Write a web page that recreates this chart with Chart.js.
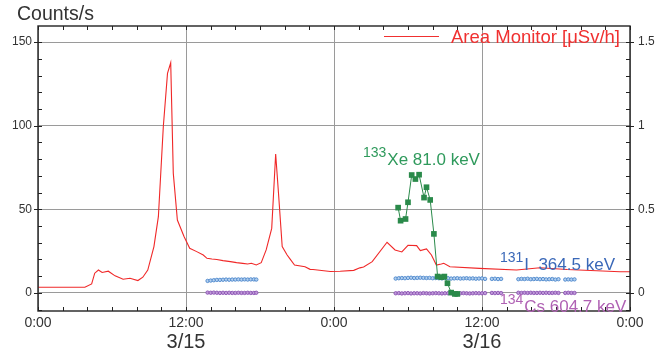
<!DOCTYPE html>
<html>
<head>
<meta charset="utf-8">
<title>Area Monitor y Xe-133</title>
<script src="https://cdn.jsdelivr.net/npm/chart.js@4.4.0/dist/chart.umd.min.js"></script>
<style>
  body { margin: 0; background: #fff; }
  canvas { display: block; }
</style>
</head>
<body>
<canvas id="grafico" width="665" height="350"></canvas>
<script>
// horas desde 3/15 0:00
var xTicks = [0, 12, 24, 36, 48];
var xTickLabels = ['0:00', '12:00', '0:00', '12:00', '0:00'];
var dayTicks = [12, 36];
var dayLabels = ['3/15', '3/16'];
var yTicks = [0, 50, 100, 150];
var y2Ticks = [0, 0.5, 1, 1.5];
var y2TickLabels = ['0', '0.5', '1', '1.5'];

// Area Monitor [uSv/h], eje derecho
var monitorHours = [0, 3.8, 4.35, 4.6, 4.9, 5.2, 5.7, 6.25, 6.9, 7.46, 8.1, 8.5, 8.9, 9.4, 9.76,
  10.16, 10.5, 10.76, 10.97, 11.3, 11.84, 12.3, 12.87, 13.4, 13.7, 14.1, 14.5, 15.0, 15.6, 16.1,
  16.6, 17.0, 17.3, 17.7, 18.1, 18.5, 18.95, 19.27, 19.5, 19.8, 20.2, 20.4, 20.8, 21.65, 22.06,
  22.3, 23.7, 24.5, 25.6, 26.1, 26.4, 27.1, 28.3, 28.95, 29.5, 30.0, 30.7, 31.0, 31.5, 31.9,
  32.3, 32.7, 32.9, 33.4, 35.8, 38.8, 40.7, 42.9, 47.2, 48];
var monitorDose = [0.034, 0.034, 0.054, 0.118, 0.137, 0.122, 0.130, 0.102, 0.082, 0.088, 0.074, 0.094, 0.137, 0.277, 0.456,
  0.994, 1.313, 1.376, 0.715, 0.436, 0.337, 0.267, 0.247, 0.227, 0.207, 0.203, 0.200, 0.193, 0.187, 0.181,
  0.177, 0.173, 0.177, 0.167, 0.181, 0.257, 0.386, 0.831, 0.596, 0.277, 0.227, 0.207, 0.167, 0.157, 0.141,
  0.140, 0.128, 0.130, 0.135, 0.150, 0.155, 0.187, 0.303, 0.257, 0.245, 0.285, 0.283, 0.253, 0.263, 0.227,
  0.167, 0.173, 0.177, 0.157, 0.147, 0.137, 0.151, 0.140, 0.127, 0.127];

// 133Xe 81.0 keV [counts/s]
var xeHours = [29.2, 29.4, 29.8, 30.0, 30.3, 30.6, 30.9, 31.3, 31.5, 31.8, 32.1, 32.4, 32.7, 32.95, 33.2, 33.5, 33.8, 34.0];
var xeCounts = [51, 43.2, 44.2, 54.2, 70.5, 68.1, 70.7, 57, 63.2, 55.6, 35.3, 9.8, 9.4, 9.8, 5.8, 0.2, -0.6, -0.6];

// 131I y 134Cs [counts/s]
var nuclideHours = [13.75, 14.0, 14.25, 14.5, 14.75, 15.0, 15.25, 15.5, 15.75, 16.0, 16.25, 16.5, 16.75, 17.0, 17.25, 17.5, 17.7,
  29.0, 29.25, 29.5, 29.75, 30.0, 30.25, 30.5, 30.75, 31.0, 31.25, 31.5, 31.75, 32.0, 32.25, 32.5,
  32.75, 33.0, 33.25, 33.5, 33.75, 34.0, 34.25, 34.5, 34.75, 35.0, 35.25, 35.5, 35.75, 36.0, 36.25,
  36.8, 37.05, 37.3, 37.55,
  38.95, 39.2, 39.45, 39.7, 39.95, 40.2, 40.45, 40.7, 40.95, 41.2, 41.45, 41.7, 41.95, 42.2,
  42.75, 43.0, 43.25, 43.5];
var iodineCounts = [7.2, 7.4, 7.6, 7.8, 7.8, 7.9, 8.0, 7.9, 8.0, 8.0, 8.1, 8.0, 8.1, 8.0, 8.1, 8.1, 8.0,
  8.6, 8.8, 8.9, 8.8, 9.0, 9.1, 8.9, 9.0, 9.1, 9.0, 8.9, 9.0, 8.8, 8.9, 8.8,
  8.7, 8.9, 8.8, 8.6, 8.7, 8.8, 8.6, 8.7, 8.8, 8.6, 8.7, 8.5, 8.6, 8.7, 8.4,
  8.4, 8.5, 8.3, 8.4,
  8.2, 8.4, 8.3, 8.5, 8.2, 8.3, 8.4, 8.2, 8.3, 8.1, 8.2, 8.3, 8.0, 8.2,
  8.0, 8.1, 8.0, 8.1];
var cesiumCounts = [0.2, 0.1, 0.2, 0.1, 0.0, 0.1, 0.0, 0.1, 0.0, 0.0, 0.1, 0.0, 0.0, 0.1, 0.0, 0.0, 0.1,
  -0.2, -0.1, -0.3, -0.2, -0.1, -0.3, -0.2, -0.2, -0.3, -0.1, -0.2, -0.3, -0.2, -0.1, -0.2,
  -0.3, -0.2, -0.2, -0.1, -0.3, -0.2, -0.2, -0.1, -0.2, -0.3, -0.2, -0.1, -0.2, -0.2, -0.1,
  0.0, -0.1, 0.0, -0.1,
  0.1, 0.0, 0.1, 0.0, 0.1, 0.0, 0.0, 0.1, 0.0, 0.1, 0.0, 0.0, 0.1, 0.0,
  0.0, 0.1, 0.0, 0.0];

var FUENTE = '"Liberation Sans", Arial, sans-serif';

function puntos(xs, ys) {
  return xs.map(function(x, i) { return { x: x, y: ys[i] }; });
}

// marco, ticks hacia adentro, fechas, leyenda y etiquetas de picos
var extrasPlugin = {
  id: 'extras',
  afterDraw: function(chart) {
    var ctx = chart.ctx;
    var a = chart.chartArea;
    var sx = chart.scales.x;
    var sy = chart.scales.y;
    ctx.save();

    ctx.strokeStyle = '#222';
    ctx.lineWidth = 1;
    ctx.beginPath();
    for (var h = 0; h <= 48; h += 2) {
      var px = Math.round(sx.getPixelForValue(h)) + 0.5;
      ctx.moveTo(px, a.bottom); ctx.lineTo(px, a.bottom - 4);
      ctx.moveTo(px, a.top); ctx.lineTo(px, a.top + 4);
    }
    for (var v = -10; v <= 150; v += 10) {
      var py = Math.round(sy.getPixelForValue(v)) + 0.5;
      ctx.moveTo(a.left, py); ctx.lineTo(a.left + 4, py);
      ctx.moveTo(a.right, py); ctx.lineTo(a.right - 4, py);
    }
    yTicks.forEach(function(t) {
      var py = Math.round(sy.getPixelForValue(t)) + 0.5;
      ctx.moveTo(a.left - 4, py); ctx.lineTo(a.left, py);
      ctx.moveTo(a.right, py); ctx.lineTo(a.right + 4, py);
    });
    ctx.stroke();

    ctx.lineWidth = 1.4;
    ctx.strokeRect(a.left, a.top, a.right - a.left, a.bottom - a.top);

    // titulo del eje
    ctx.fillStyle = '#333';
    ctx.font = '19.5px ' + FUENTE;
    ctx.textAlign = 'left';
    ctx.textBaseline = 'alphabetic';
    ctx.fillText('Counts/s', 17, 20);

    // fechas
    ctx.font = '20px ' + FUENTE;
    ctx.textAlign = 'center';
    dayTicks.forEach(function(d, i) {
      ctx.fillText(dayLabels[i], sx.getPixelForValue(d), 348);
    });

    // leyenda
    ctx.font = '18.5px ' + FUENTE;
    ctx.textAlign = 'left';
    var leyenda = 'Area Monitor [\u03bcSv/h]';
    var w = ctx.measureText(leyenda).width;
    var tx = a.right - 10 - w;
    ctx.fillStyle = '#f03030';
    ctx.fillText(leyenda, tx, 43);
    ctx.strokeStyle = '#f03030';
    ctx.lineWidth = 1.2;
    ctx.beginPath();
    ctx.moveTo(tx - 67, 36.5);
    ctx.lineTo(tx - 12, 36.5);
    ctx.stroke();

    // etiquetas de los picos
    var etiquetas = [
      { sup: '133', text: 'Xe 81.0 keV', h: 26.35, base: 165, color: '#2f9a5c' },
      { sup: '131', text: 'I  364.5 keV', h: 37.45, base: 270, color: '#3a68b8' },
      { sup: '134', text: 'Cs 604.7 keV', h: 37.45, base: 312, color: '#b062b4' }
    ];
    etiquetas.forEach(function(e) {
      var x0 = sx.getPixelForValue(e.h);
      ctx.fillStyle = e.color;
      ctx.font = '14px ' + FUENTE;
      ctx.fillText(e.sup, x0, e.base - 8);
      var ws = ctx.measureText(e.sup).width;
      ctx.font = '17px ' + FUENTE;
      ctx.fillText(e.text, x0 + ws + 1, e.base);
    });

    ctx.restore();
  }
};

var ctx = document.getElementById('grafico').getContext('2d');
var grafico = new Chart(ctx, {
  type: 'line',
  data: {
    datasets: [
      {
        label: '133Xe 81.0 keV',
        data: puntos(xeHours, xeCounts),
        yAxisID: 'y',
        borderColor: '#2a8a4a',
        backgroundColor: '#2a8a4a',
        borderWidth: 1,
        pointStyle: 'rect',
        pointRadius: 4,
        pointBorderWidth: 0,
        order: 0
      },
      {
        label: 'Area Monitor [\u03bcSv/h]',
        data: puntos(monitorHours, monitorDose),
        yAxisID: 'y2',
        borderColor: '#f02828',
        borderWidth: 1.1,
        pointRadius: 0,
        tension: 0,
        order: 1
      },
      {
        label: '131I 364.5 keV',
        data: puntos(nuclideHours, iodineCounts),
        yAxisID: 'y',
        showLine: false,
        borderColor: '#4a86cc',
        backgroundColor: '#b4d0ef',
        pointRadius: 1.7,
        pointBorderWidth: 0.9,
        order: 2
      },
      {
        label: '134Cs 604.7 keV',
        data: puntos(nuclideHours, cesiumCounts),
        yAxisID: 'y',
        showLine: false,
        borderColor: '#8a50b2',
        backgroundColor: '#bf9ad8',
        pointRadius: 1.7,
        pointBorderWidth: 0.9,
        order: 3
      }
    ]
  },
  options: {
    responsive: false,
    animation: false,
    layout: { padding: { top: 26, left: 0, right: 0, bottom: 0 } },
    plugins: {
      legend: { display: false },
      tooltip: { enabled: false }
    },
    scales: {
      x: {
        type: 'linear',
        position: 'bottom',
        min: 0,
        max: 48,
        afterBuildTicks: function(s) { s.ticks = xTicks.map(function(t) { return { value: t }; }); },
        afterFit: function(s) { s.height = 39; },
        ticks: {
          autoSkip: false,
          maxRotation: 0,
          padding: 4,
          color: '#333',
          font: { family: FUENTE, size: 14 },
          callback: function(value) { return xTickLabels[xTicks.indexOf(value)]; }
        },
        grid: { color: '#9a9a9a', lineWidth: 1, drawTicks: false },
        border: { display: false }
      },
      y: {
        position: 'left',
        min: -10.8,
        max: 159.6,
        afterBuildTicks: function(s) { s.ticks = yTicks.map(function(t) { return { value: t }; }); },
        afterFit: function(s) { s.width = 38; },
        ticks: {
          padding: 6,
          color: '#333',
          font: { family: FUENTE, size: 12 }
        },
        grid: { color: '#9a9a9a', lineWidth: 1, drawTicks: false },
        border: { display: false }
      },
      y2: {
        position: 'right',
        min: -0.108,
        max: 1.596,
        afterBuildTicks: function(s) { s.ticks = y2Ticks.map(function(t) { return { value: t }; }); },
        afterFit: function(s) { s.width = 35; },
        ticks: {
          padding: 8,
          color: '#333',
          font: { family: FUENTE, size: 12 },
          callback: function(value) { return y2TickLabels[y2Ticks.indexOf(value)]; }
        },
        grid: { drawOnChartArea: false, drawTicks: false },
        border: { display: false }
      }
    }
  },
  plugins: [extrasPlugin]
});
</script>
</body>
</html>
